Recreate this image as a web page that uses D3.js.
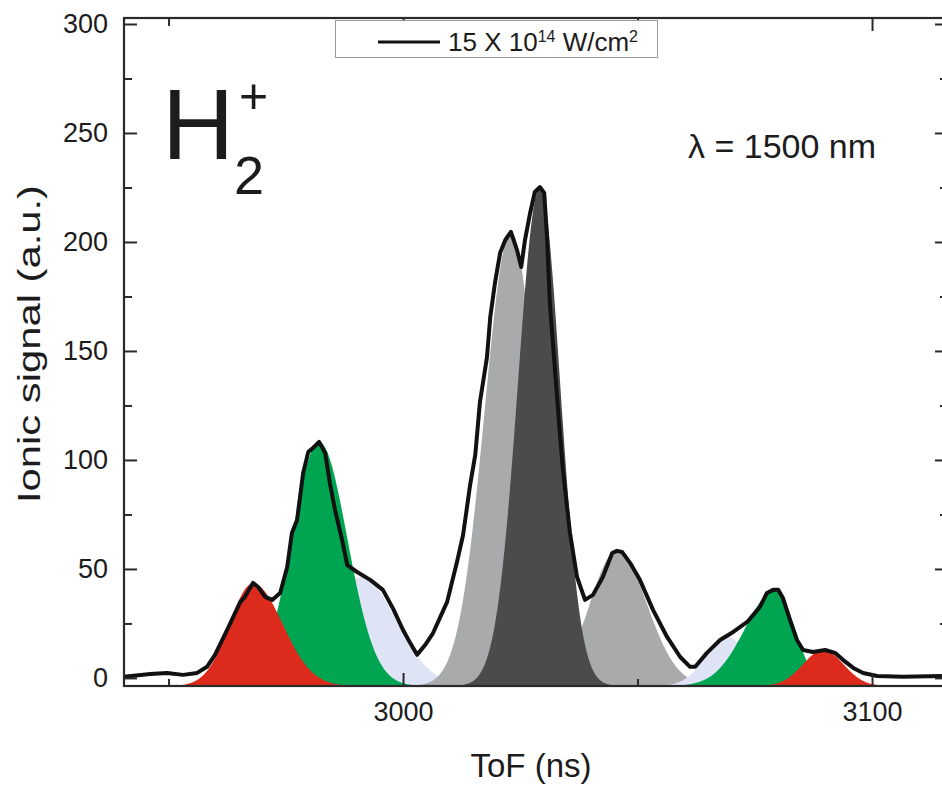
<!DOCTYPE html>
<html><head><meta charset="utf-8">
<script src="https://cdn.jsdelivr.net/npm/d3@7"></script>
<style>
body{margin:0;background:#fff}
svg{display:block}
text{font-family:"Liberation Sans",Arial,Helvetica,sans-serif;fill:#1c1c1c}
</style>
</head><body><svg id="c" width="942" height="786"></svg>
<script>
// ---- measured ToF spectrum (black curve) ----
const tof = [2940.3,2946.1,2949.7,2953.1,2956.1,2958.2,2959.9,2962.5,2963.8,2965.3,2966.3,2968.0,2969.1,2970.6,2972.1,2973.8,2975.3,2976.3,2977.4,2978.7,2979.8,2980.8,2982.1,2983.4,2984.4,2985.5,2987.0,2988.1,2990.2,2993.0,2995.7,2997.9,3000.0,3001.5,3003.0,3004.7,3006.4,3009.4,3011.5,3012.8,3014.3,3015.4,3016.4,3017.9,3018.6,3019.6,3020.7,3021.8,3023.0,3024.3,3025.2,3026.0,3027.1,3028.1,3029.2,3030.1,3030.7,3031.3,3032.4,3033.5,3034.1,3035.6,3037.1,3038.8,3040.5,3042.6,3044.6,3045.6,3046.7,3048.4,3050.5,3053.3,3056.3,3059.1,3061.2,3062.3,3064.8,3067.6,3070.4,3073.4,3076.1,3077.6,3078.9,3080.0,3081.0,3082.5,3084.0,3085.3,3087.4,3090.0,3092.1,3093.8,3096.0,3098.1,3101.1,3106.6,3114.9];
const signal = [0.5,1.8,2.3,1.4,2.3,5.1,10.6,22.0,28.0,34.9,37.2,43.6,41.7,37.2,35.8,39.0,50.9,66.5,72.5,94.0,103.7,105.5,108.3,103.2,89.4,77.1,63.3,51.8,48.6,45.0,40.4,31.7,22.0,16.1,10.6,15.1,20.6,34.9,53.2,65.6,88.5,102.3,126.6,147.2,165.6,181.2,195.0,200.9,204.6,196.3,188.5,200.9,213.3,222.9,225.2,222.5,202.3,172.0,141.3,110.6,95.4,66.5,46.3,35.8,38.1,46.3,57.3,58.3,57.8,52.8,45.0,31.2,18.8,9.6,5.1,5.1,11.5,17.4,21.1,25.7,32.6,39.0,40.4,40.4,36.7,26.6,17.4,12.8,11.9,12.8,11.5,8.3,4.6,2.3,0.9,0.5,0.9];

// ---- fitted peak components (drawing order) ----
const compCenter = [2991.0, 2982.1, 2968.0, 3023.0, 3045.6, 3029.2, 3069.0, 3079.5, 3089.6];
const compHeight = [46.3, 108.3, 43.3, 204.6, 58.3, 225.2, 19.0, 40.4, 12.8];
const compSigmaL = [7.5, 5.8, 5.0, 5.6, 5.8, 4.7, 4.5, 6.5, 4.3];
const compSigmaR = [7.5, 6.0, 6.3, 5.6, 6.4, 4.3, 4.5, 4.0, 4.3];
const compKind   = ["lavender","green","red","lightgray","lightgray","darkgray","lavender","green","red"];

// ---- axes ----
const xDomain = [2940.5, 3116.2];
const yDomain = [-3.7, 302.75];
const xTickMajor = [3000, 3100];
const xTickMinor = [2950, 3050];
const yTickMajor = [0, 50, 100, 150, 200, 250, 300];
const yTickMinor = [25, 75, 125, 175, 225, 275];

const legendBase = "15 X 10", legendExp = "14", legendUnit = " W/cm", legendUnitExp = "2";
const xTitle = "ToF (ns)", yTitle = "Ionic signal (a.u.)";
const waveLabel = "λ = 1500 nm";

const palette = {lavender:"#dfe3f6", green:"#00a551", red:"#dc2b1c", lightgray:"#a9aaac", darkgray:"#4b4b4b"};

const L = 124, R = 948, T = 18, B = 686;
const svg = d3.select("#c");
const x = d3.scaleLinear().domain(xDomain).range([L, R]);
const y = d3.scaleLinear().domain(yDomain).range([B, T]);

svg.append("defs").append("clipPath").attr("id","clip")
  .append("rect").attr("x",L).attr("y",T).attr("width",R-L).attr("height",B-T);

const plot = svg.append("g").attr("clip-path","url(#clip)");
const grid = d3.range(xDomain[0], xDomain[1], 0.2);
const base = yDomain[0];
compCenter.forEach((c,i)=>{
  const A = compHeight[i] - base;
  const pts = grid.map(t=>{
    const s = t < c ? compSigmaL[i] : compSigmaR[i];
    return [t, base + A*Math.exp(-((t-c)*(t-c))/(2*s*s))];
  });
  plot.append("path").datum(pts)
    .attr("fill", palette[compKind[i]])
    .attr("d", d3.area().x(d=>x(d[0])).y0(y(base)).y1(d=>y(d[1])));
});

plot.append("path").datum(tof.map((t,i)=>[t,signal[i]]))
  .attr("fill","none").attr("stroke","#111").attr("stroke-width",4)
  .attr("stroke-linejoin","round")
  .attr("d", d3.line().x(d=>x(d[0])).y(d=>y(d[1])));

// axes
function axis(gen, tr, vals, size, fmt, pad){
  const g = svg.append("g").attr("transform",tr)
    .call(gen.tickValues(vals).tickSize(size).tickSizeOuter(0).tickPadding(pad||3).tickFormat(fmt));
  g.select(".domain").remove();
  g.selectAll(".tick line").attr("stroke","#2a2a2a").attr("stroke-width",2);
  return g;
}
const none = ()=>"";
const gb = axis(d3.axisBottom(x), `translate(0,${B})`, xTickMajor, -13, d3.format("d"), 16);
axis(d3.axisBottom(x), `translate(0,${B})`, xTickMinor, -7, none);
axis(d3.axisTop(x), `translate(0,${T})`, xTickMajor, -13, none);
axis(d3.axisTop(x), `translate(0,${T})`, xTickMinor, -8, none);
const gl = axis(d3.axisLeft(y), `translate(${L},0)`, yTickMajor, -13, d3.format("d"), 16);
axis(d3.axisLeft(y), `translate(${L},0)`, yTickMinor, -8, none);
axis(d3.axisRight(y), `translate(${R},0)`, yTickMajor, -13, none);
axis(d3.axisRight(y), `translate(${R},0)`, yTickMinor, -8, none);
[gb,gl].forEach(g=>g.selectAll("text").style("font-size","27px").attr("fill","#1c1c1c")
  .style("font-family","'Liberation Sans',Arial,sans-serif"));

svg.append("rect").attr("x",L).attr("y",T).attr("width",R-L).attr("height",B-T)
  .attr("fill","none").attr("stroke","#2a2a2a").attr("stroke-width",2.2);

// legend
const lg = svg.append("g");
lg.append("rect").attr("x",335.5).attr("y",20.5).attr("width",322).attr("height",37)
  .attr("fill","#fff").attr("stroke","#9a9a9a").attr("stroke-width",1);
lg.append("line").attr("x1",378).attr("x2",440).attr("y1",42).attr("y2",42)
  .attr("stroke","#111").attr("stroke-width",3);
const lt = lg.append("text").attr("x",448).attr("y",51).style("font-size","26px");
lt.append("tspan").text(legendBase);
lt.append("tspan").attr("dy",-9).style("font-size","16px").text(legendExp);
lt.append("tspan").attr("dy",9).text(legendUnit);
lt.append("tspan").attr("dy",-9).style("font-size","16px").text(legendUnitExp);

// species label H2+
const hg = svg.append("g");
hg.append("text").attr("x",162).attr("y",159).style("font-size","100px").text("H");
hg.append("text").attr("x",234).attr("y",194).style("font-size","54px").text("2");
hg.append("text").attr("x",239).attr("y",113).style("font-size","50px").text("+");

svg.append("text").attr("x",688).attr("y",158).style("font-size","34px").text(waveLabel);

svg.append("text").attr("x",531).attr("y",777).attr("text-anchor","middle").style("font-size","33px").text(xTitle);
svg.append("text").attr("transform","translate(40,344) rotate(-90)").attr("text-anchor","middle")
  .attr("textLength",318).attr("lengthAdjust","spacingAndGlyphs")
  .style("font-size","32px").text(yTitle);
</script>
</body></html>
